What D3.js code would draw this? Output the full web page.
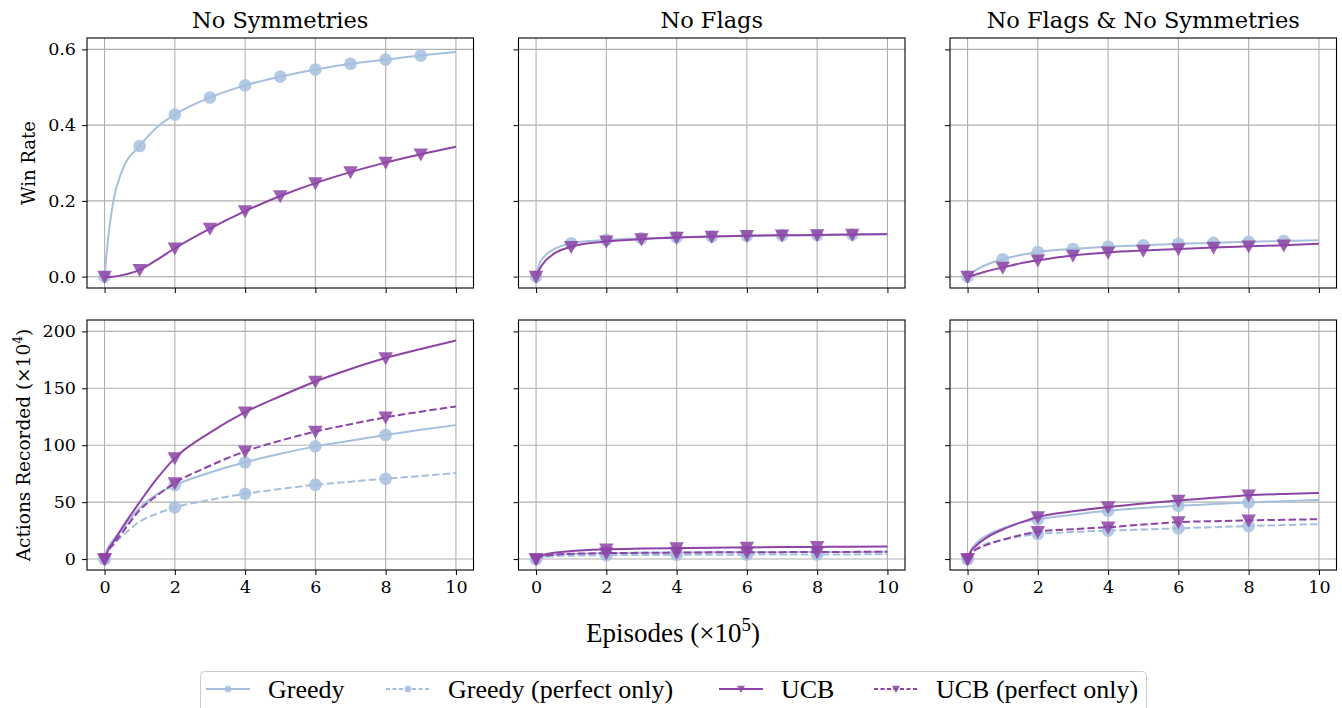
<html>
<script src="https://d3js.org/d3.v7.min.js"></script>
<style>
body { margin: 0; background: #fff; }
.grid line { stroke: #b0b0b0; stroke-width: 1.1; }
</style>
<body>
<svg width="1342" height="708"></svg>
<script>
// episodes (x10^5) at which the curves were read
var xs = [0, 0.1, 0.25, 0.5, 1, 1.5, 2, 3, 4, 5, 6, 7, 8, 9, 10];

var panelTitles = ["No Symmetries", "No Flags", "No Flags & No Symmetries"];
var seriesNames = ["Greedy", "Greedy (perfect only)", "UCB", "UCB (perfect only)"];

// win rate (top row)
var winGreedy_noSym = [0, 0.10, 0.20, 0.28, 0.345, 0.395, 0.428, 0.473, 0.505, 0.528, 0.547, 0.562, 0.573, 0.584, 0.593];
var winUCB_noSym    = [0, -0.001, 0.0, 0.004, 0.018, 0.045, 0.075, 0.127, 0.173, 0.213, 0.247, 0.276, 0.301, 0.323, 0.343];
var winGreedy_noFlag = [0, 0.035, 0.055, 0.072, 0.088, 0.094, 0.097, 0.101, 0.104, 0.106, 0.108, 0.109, 0.110, 0.111, 0.113];
var winUCB_noFlag    = [0, 0.02, 0.04, 0.06, 0.079, 0.088, 0.093, 0.099, 0.103, 0.106, 0.108, 0.109, 0.110, 0.111, 0.112];
var winGreedy_both = [0, 0.008, 0.018, 0.03, 0.046, 0.057, 0.065, 0.073, 0.079, 0.083, 0.087, 0.089, 0.092, 0.094, 0.096];
var winUCB_both    = [0, 0.002, 0.006, 0.013, 0.024, 0.035, 0.043, 0.056, 0.064, 0.069, 0.073, 0.077, 0.080, 0.083, 0.087];

// actions recorded x10^4 (bottom row)
var actGreedy_noSym     = [0, 10, 17, 26, 45, 57, 65, 76, 85, 92.5, 99, 104, 109, 113.5, 117.7];
var actGreedyPerf_noSym = [0, 7, 13, 20, 33, 40, 45.4, 52, 57.4, 61.5, 65.3, 68, 70.6, 73, 75.6];
var actUCB_noSym        = [0, 8, 15, 27.5, 50, 71, 88.7, 111, 129, 143, 156, 167, 176.6, 184.5, 192];
var actUCBPerf_noSym    = [0, 7, 13, 23, 43, 56, 66.8, 82, 94.6, 104, 112, 118.5, 124.5, 129.5, 134];

var actGreedy_noFlag     = [0, 1.5, 2.5, 3.5, 4.5, 5, 5.2, 5.5, 5.7, 5.9, 6, 6.1, 6.2, 6.3, 6.4];
var actGreedyPerf_noFlag = [0, 1, 1.8, 2.5, 3, 3.2, 3.4, 3.6, 3.7, 3.8, 3.9, 4, 4, 4.1, 4.2];
var actUCB_noFlag        = [0, 2.5, 4, 5.5, 7, 8, 8.6, 9.2, 9.6, 10, 10.2, 10.5, 10.7, 10.9, 11];
var actUCBPerf_noFlag    = [0, 1.8, 2.8, 3.8, 4.6, 5, 5.2, 5.5, 5.7, 5.9, 6, 6.1, 6.2, 6.3, 6.5];

var actGreedy_both     = [0, 8, 14, 20, 27, 32, 35, 39, 42.4, 44.8, 46.8, 48.3, 49.7, 50.9, 52];
var actGreedyPerf_both = [0, 5, 9, 13, 17, 20, 22, 23.8, 25, 26, 27, 28, 29, 29.9, 30.7];
var actUCB_both        = [0, 7, 12, 18, 26, 32, 37, 42, 45.7, 48.8, 51.5, 53.8, 56, 57.2, 58];
var actUCBPerf_both    = [0, 5, 8.5, 12, 17, 21, 24, 26.3, 28, 30.3, 32.5, 33.3, 34, 34.5, 35];

var xTicks = [0, 2, 4, 6, 8, 10];
var winTicks = [0.0, 0.2, 0.4, 0.6];
var actTicks = [0, 50, 100, 150, 200];

var greedyColor = "#a6bfdf", ucbColor = "#8e44a6";
var serif = "DejaVu Serif", times = "Liberation Serif";

var styles = [
  {color: greedyColor, dash: null, marker: "circle"},
  {color: greedyColor, dash: "7.4,3.2", marker: "circle"},
  {color: ucbColor, dash: null, marker: "triangle"},
  {color: ucbColor, dash: "7.4,3.2", marker: "triangle"}
];

var panels = [
  {row: 0, col: 0, series: [winGreedy_noSym, null, winUCB_noSym, null]},
  {row: 0, col: 1, series: [winGreedy_noFlag, null, winUCB_noFlag, null]},
  {row: 0, col: 2, series: [winGreedy_both, null, winUCB_both, null]},
  {row: 1, col: 0, series: [actGreedy_noSym, actGreedyPerf_noSym, actUCB_noSym, actUCBPerf_noSym]},
  {row: 1, col: 1, series: [actGreedy_noFlag, actGreedyPerf_noFlag, actUCB_noFlag, actUCBPerf_noFlag]},
  {row: 1, col: 2, series: [actGreedy_both, actGreedyPerf_both, actUCB_both, actUCBPerf_both]}
];

var colLeft = [87, 518.5, 950], panelW = 386.5;
var rowTop = [38, 320], panelH = 250;
var yDomains = [[-0.03, 0.63], [-9.6, 210]];
var rowTicks = [winTicks, actTicks];

var svg = d3.select("svg");

function drawMarker(g, type, x, y, color, size) {
  if (type === "circle") {
    g.append("circle").attr("cx", x).attr("cy", y).attr("r", size)
      .attr("fill", color).attr("fill-opacity", 0.85);
  } else {
    var s = size * 1.15;
    g.append("path")
      .attr("d", "M" + (x - s) + "," + (y - s * 0.8) + "L" + (x + s) + "," + (y - s * 0.8) + "L" + x + "," + (y + s * 1.0) + "Z")
      .attr("fill", color).attr("fill-opacity", 0.85);
  }
}

panels.forEach(function(p) {
  var x = d3.scaleLinear().domain([-0.5, 10.5]).range([colLeft[p.col], colLeft[p.col] + panelW]);
  var y = d3.scaleLinear().domain(yDomains[p.row]).range([rowTop[p.row] + panelH, rowTop[p.row]]);
  var g = svg.append("g");

  // grid
  var grid = g.append("g").attr("class", "grid");
  xTicks.forEach(function(t) {
    grid.append("line").attr("x1", x(t)).attr("x2", x(t)).attr("y1", y.range()[0]).attr("y2", y.range()[1]);
  });
  rowTicks[p.row].forEach(function(t) {
    grid.append("line").attr("x1", x.range()[0]).attr("x2", x.range()[1]).attr("y1", y(t)).attr("y2", y(t));
  });

  var line = d3.line().x(function(d, i) { return x(xs[i]); }).y(function(d) { return y(d); }).curve(d3.curveMonotoneX);
  var clipId = "clip" + p.row + p.col;
  g.append("clipPath").attr("id", clipId).append("rect")
    .attr("x", x.range()[0]).attr("y", y.range()[1]).attr("width", panelW).attr("height", panelH);
  var plot = g.append("g").attr("clip-path", "url(#" + clipId + ")");

  p.series.forEach(function(vals, si) {
    if (!vals) return;
    var st = styles[si];
    plot.append("path").datum(vals).attr("d", line).attr("fill", "none")
      .attr("stroke", st.color).attr("stroke-width", 2)
      .attr("stroke-dasharray", st.dash);
    var every = p.row === 0 ? 1 : 2;
    xs.forEach(function(xv, i) {
      if (xv === Math.round(xv) && xv % every === 0 && xv < 10) {
        drawMarker(plot, st.marker, x(xv), y(vals[i]), st.color, 6.3);
      }
    });
  });

  // axes
  var xAxis = d3.axisBottom(x).tickValues(xTicks).tickSize(5).tickPadding(6)
    .tickFormat(p.row === 1 ? d3.format("d") : function() { return ""; });
  var ax = g.append("g").attr("transform", "translate(0," + y.range()[0] + ")").call(xAxis);
  ax.select(".domain").remove();
  ax.selectAll("text").style("font-size", "17.5px").style("font-family", serif).attr("fill", "#000");
  ax.selectAll("line").attr("stroke", "#000").attr("stroke-width", 1);

  var yAxis = d3.axisLeft(y).tickValues(rowTicks[p.row]).tickSize(5).tickPadding(6)
    .tickFormat(p.col === 0 ? (p.row === 0 ? d3.format(".1f") : d3.format("d")) : function() { return ""; });
  var ay = g.append("g").attr("transform", "translate(" + x.range()[0] + ",0)").call(yAxis);
  ay.select(".domain").remove();
  ay.selectAll("text").style("font-size", "17.5px").style("font-family", serif).attr("fill", "#000");
  ay.selectAll("line").attr("stroke", "#000").attr("stroke-width", 1);

  g.append("rect").attr("x", x.range()[0]).attr("y", y.range()[1]).attr("width", panelW).attr("height", panelH)
    .attr("fill", "none").attr("stroke", "#000").attr("stroke-width", 1.1);

  if (p.row === 0) {
    g.append("text").attr("x", (x.range()[0] + x.range()[1]) / 2).attr("y", 28)
      .attr("text-anchor", "middle").style("font-family", serif).style("font-size", "22.5px")
      .text(panelTitles[p.col]);
  }
});

// y labels
svg.append("text").attr("transform", "translate(35,163) rotate(-90)").attr("text-anchor", "middle")
  .style("font-family", serif).style("font-size", "18px").text("Win Rate");
var yl2 = svg.append("text").attr("transform", "translate(30,445) rotate(-90)").attr("text-anchor", "middle")
  .style("font-family", serif).style("font-size", "18.5px");
yl2.append("tspan").text("Actions Recorded (×10");
yl2.append("tspan").style("font-size", "12.5px").attr("dy", -8).text("4");
yl2.append("tspan").attr("dy", 8).text(")");

// x label
var xl = svg.append("text").attr("x", 673).attr("y", 642).attr("text-anchor", "middle")
  .style("font-family", times).style("font-size", "27px");
xl.append("tspan").text("Episodes (×10");
xl.append("tspan").style("font-size", "19px").attr("dy", -11).text("5");
xl.append("tspan").attr("dy", 11).text(")");

// legend
var leg = svg.append("g");
leg.append("rect").attr("x", 200.5).attr("y", 671.5).attr("width", 946).attr("height", 50).attr("rx", 4)
  .attr("fill", "#fff").attr("stroke", "#cccccc").attr("stroke-width", 1);
var legX = [206, 386, 719, 874];
seriesNames.forEach(function(name, i) {
  var st = styles[i];
  var lx = legX[i], ly = 689;
  leg.append("line").attr("x1", lx).attr("x2", lx + 44).attr("y1", ly).attr("y2", ly)
    .attr("stroke", st.color).attr("stroke-width", 2).attr("stroke-dasharray", st.dash ? "4,2.5" : null);
  drawMarker(leg, st.marker, lx + 22, ly, st.color, 3.5);
  leg.append("text").attr("x", lx + 62).attr("y", ly + 9)
    .style("font-family", times).style("font-size", "26px").text(name);
});
</script>
</body>
</html>
